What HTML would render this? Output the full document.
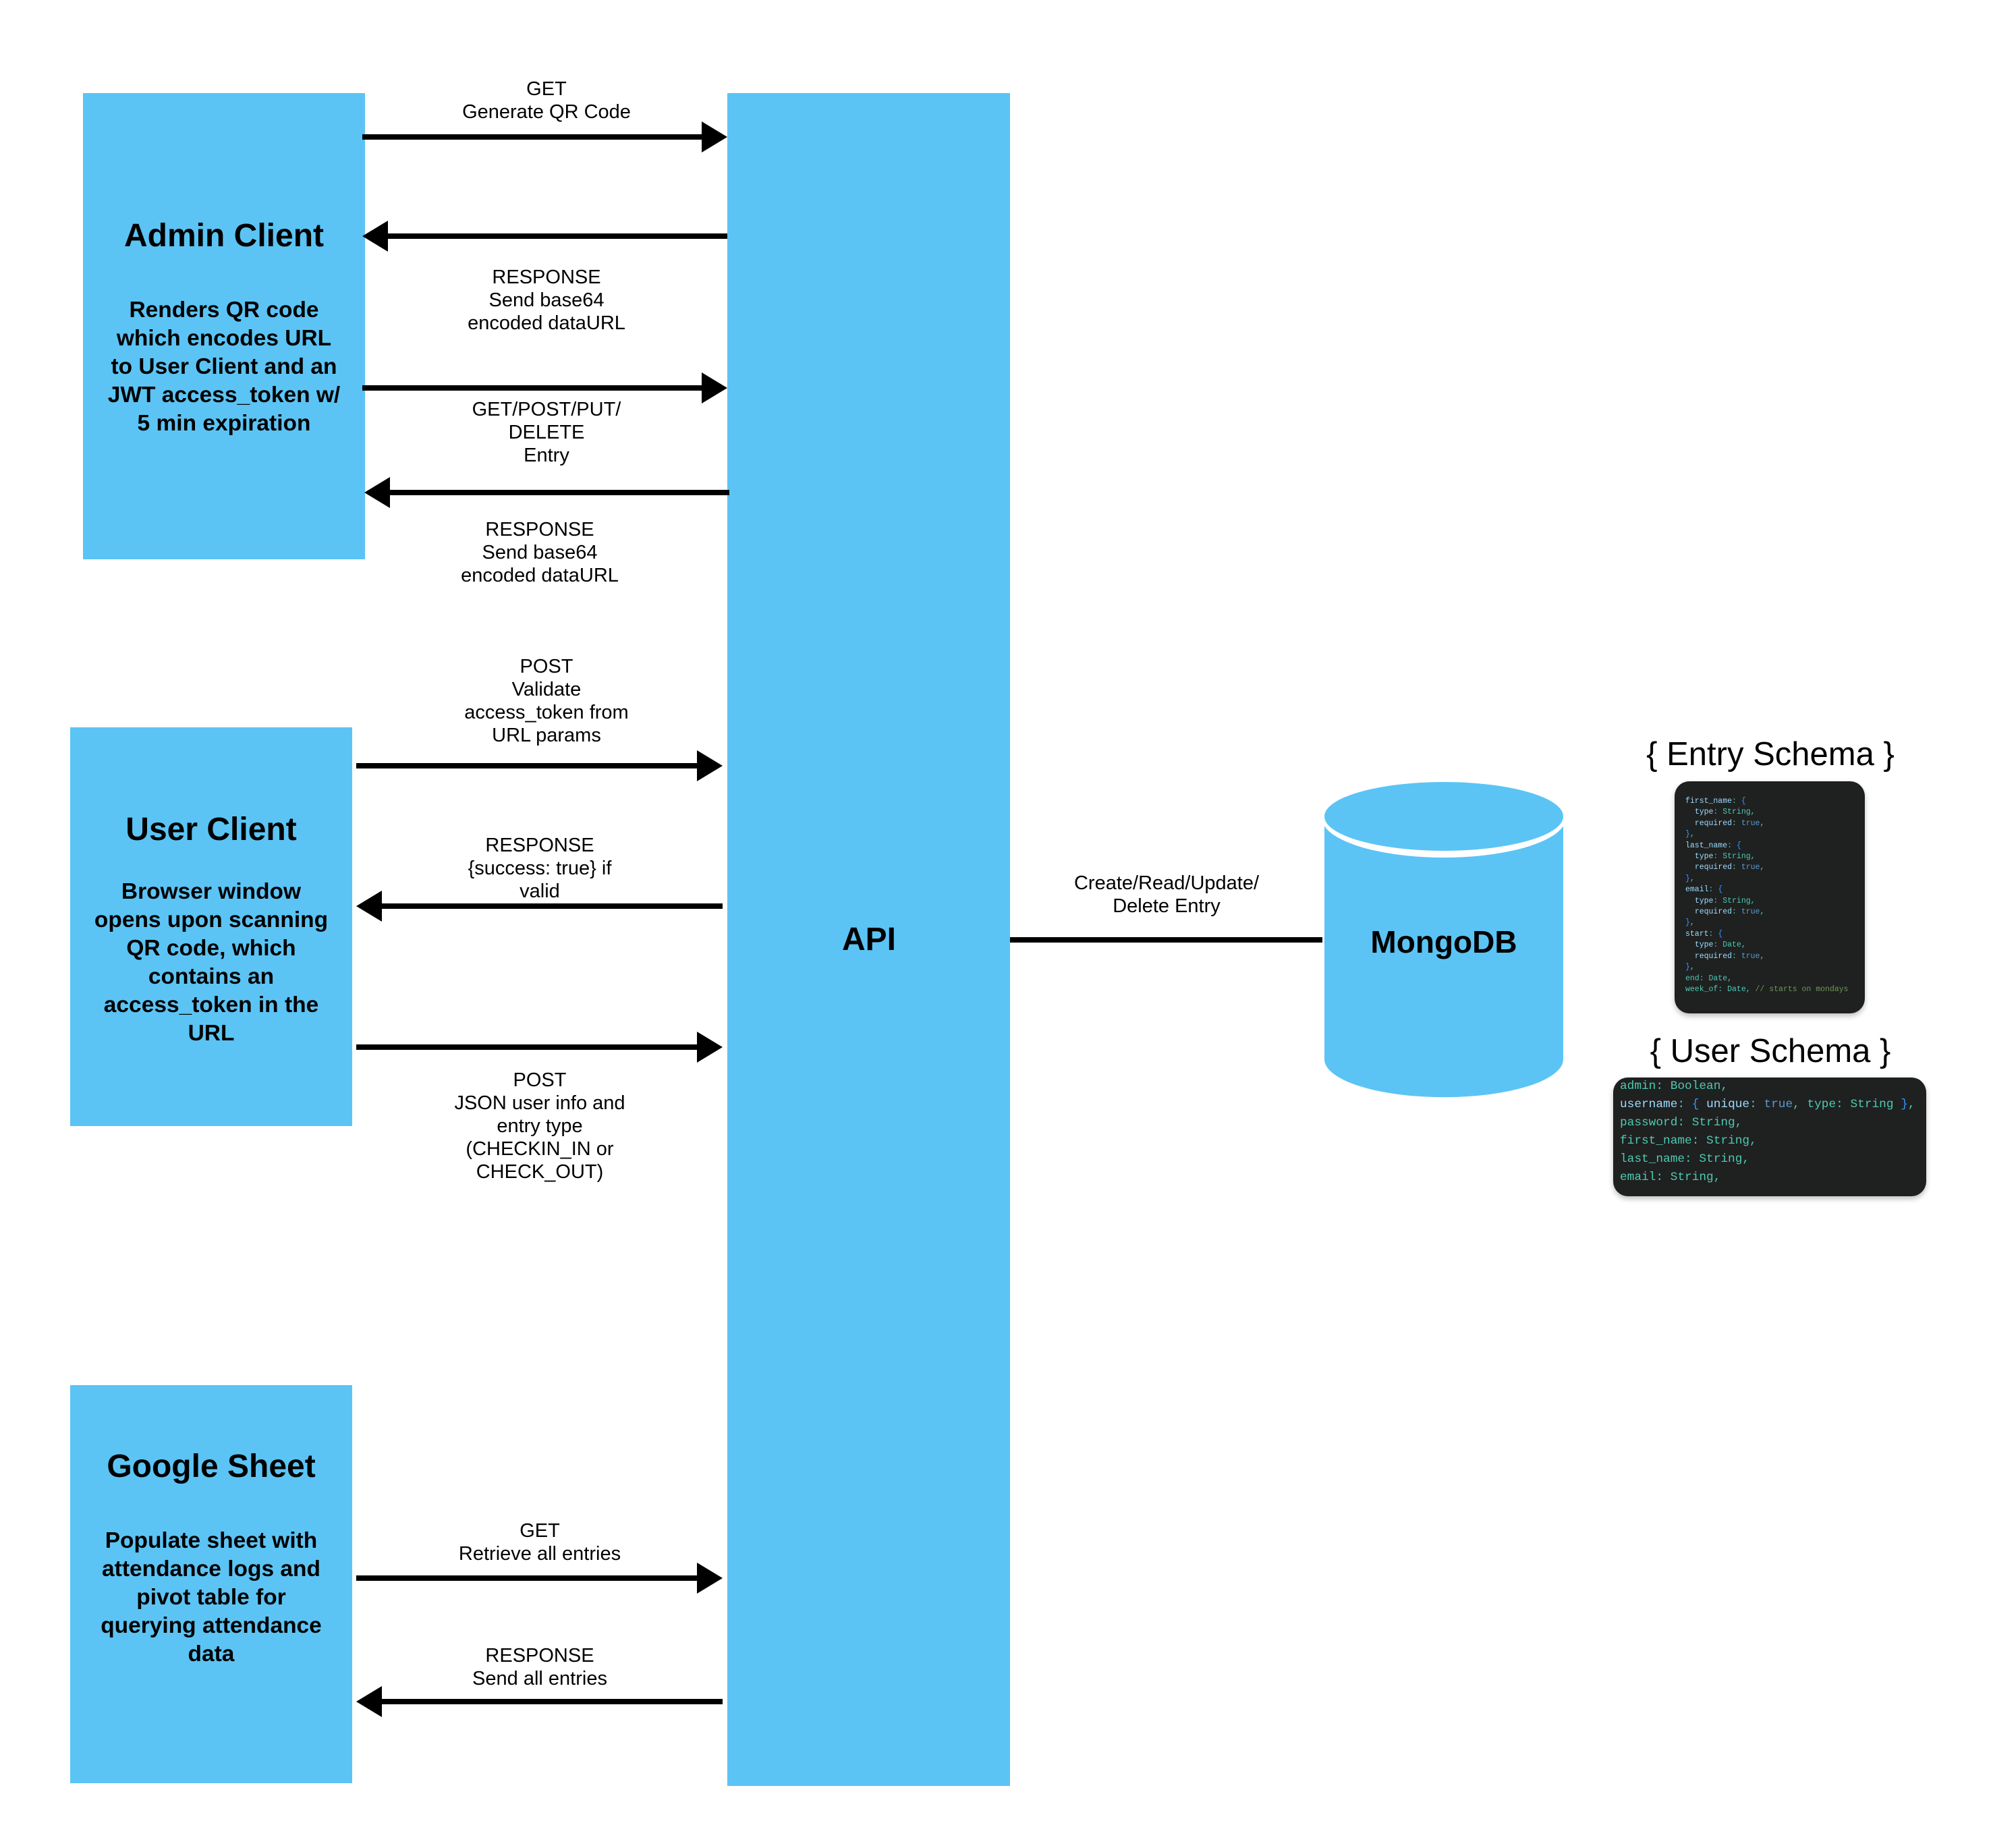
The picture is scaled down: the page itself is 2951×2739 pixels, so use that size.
<!DOCTYPE html>
<html><head><meta charset="utf-8"><style>
body{margin:0;width:2951px;height:2739px;background:#fff;position:relative;overflow:hidden;font-family:"Liberation Sans",sans-serif;}
.b{position:absolute;background:#5BC4F5;}
.t{position:absolute;text-align:center;color:#000;transform:translateX(-50%);white-space:nowrap;}
.lbl{font-size:29px;line-height:34px;}
.title{font-size:48px;font-weight:bold;line-height:56px;}
.body{font-size:33.5px;font-weight:bold;line-height:42px;}
.code{position:absolute;background:#1f2020;border-radius:22px;font-family:"Liberation Mono",monospace;color:#4ec9b0;white-space:pre;box-shadow:0 4px 8px rgba(0,0,0,.25);overflow:hidden;}
.k{color:#9cdcfe}.p{color:#3794ff}.v{color:#569cd6}.c{color:#6a9955}
</style></head><body>
<div class="b" style="left:123px;top:138px;width:418px;height:691px"></div>
<div class="b" style="left:1078px;top:138px;width:419px;height:2509px"></div>
<div class="b" style="left:104px;top:1078px;width:418px;height:591px"></div>
<div class="b" style="left:104px;top:2053px;width:418px;height:590px"></div>

<svg style="position:absolute;left:0;top:0" width="2951" height="2739">
<g fill="#000" stroke="#000" stroke-width="8">
<line x1="537" y1="203" x2="1045" y2="203"/><polygon stroke="none" points="1078,203 1040,180 1040,226"/>
<line x1="575" y1="350" x2="1078" y2="350"/><polygon stroke="none" points="537,350 575,327 575,373"/>
<line x1="537" y1="575" x2="1045" y2="575"/><polygon stroke="none" points="1078,575 1040,552 1040,598"/>
<line x1="578" y1="730" x2="1081" y2="730"/><polygon stroke="none" points="540,730 578,707 578,753"/>
<line x1="528" y1="1135" x2="1035" y2="1135"/><polygon stroke="none" points="1071,1135 1033,1112 1033,1158"/>
<line x1="566" y1="1343" x2="1071" y2="1343"/><polygon stroke="none" points="528,1343 566,1320 566,1366"/>
<line x1="528" y1="1552" x2="1035" y2="1552"/><polygon stroke="none" points="1071,1552 1033,1529 1033,1575"/>
<line x1="528" y1="2339" x2="1035" y2="2339"/><polygon stroke="none" points="1071,2339 1033,2316 1033,2362"/>
<line x1="566" y1="2522" x2="1071" y2="2522"/><polygon stroke="none" points="528,2522 566,2499 566,2545"/>
<line x1="1497" y1="1393" x2="1960" y2="1393"/>
</g>
<g fill="#5BC4F5">
<path d="M1963,1212 L1963,1570 A176,56 0 0 0 2317,1570 L2317,1212 Z"/>
<ellipse cx="2140" cy="1212" rx="181" ry="59" fill="#fff"/>
<ellipse cx="2140" cy="1210" rx="177" ry="51"/>
</g>
</svg>

<div class="t title" style="left:332px;top:322px">Admin Client</div>
<div class="t body" style="left:332px;top:439px">Renders QR code<br>which encodes URL<br>to User Client and an<br>JWT access_token w/<br>5 min expiration</div>
<div class="t title" style="left:313px;top:1202px">User Client</div>
<div class="t body" style="left:313px;top:1301px">Browser window<br>opens upon scanning<br>QR code, which<br>contains an<br>access_token in the<br>URL</div>
<div class="t title" style="left:313px;top:2146px">Google Sheet</div>
<div class="t body" style="left:313px;top:2263px">Populate sheet with<br>attendance logs and<br>pivot table for<br>querying attendance<br>data</div>
<div class="t title" style="left:1288px;top:1365px">API</div>
<div class="t title" style="left:2140px;top:1368px;font-size:46px">MongoDB</div>

<div class="t lbl" style="left:810px;top:115px">GET<br>Generate QR Code</div>
<div class="t lbl" style="left:810px;top:394px">RESPONSE<br>Send base64<br>encoded dataURL</div>
<div class="t lbl" style="left:810px;top:590px">GET/POST/PUT/<br>DELETE<br>Entry</div>
<div class="t lbl" style="left:800px;top:768px">RESPONSE<br>Send base64<br>encoded dataURL</div>
<div class="t lbl" style="left:810px;top:971px">POST<br>Validate<br>access_token from<br>URL params</div>
<div class="t lbl" style="left:800px;top:1236px">RESPONSE<br>{success: true} if<br>valid</div>
<div class="t lbl" style="left:800px;top:1584px">POST<br>JSON user info and<br>entry type<br>(CHECKIN_IN or<br>CHECK_OUT)</div>
<div class="t lbl" style="left:800px;top:2252px">GET<br>Retrieve all entries</div>
<div class="t lbl" style="left:800px;top:2437px">RESPONSE<br>Send all entries</div>
<div class="t lbl" style="left:1729px;top:1292px">Create/Read/Update/<br>Delete Entry</div>

<div class="t" style="left:2624px;top:1090px;font-size:49px;line-height:56px">{ Entry Schema }</div>
<div class="code" style="left:2482px;top:1158px;width:282px;height:344px;font-size:11.5px;line-height:16.4px;padding:22px 0 0 16px;box-sizing:border-box"><span class="k">first_name</span>: <span class="p">{</span>
  <span class="k">type</span>: String,
  <span class="k">required</span>: <span class="v">true</span>,
<span class="p">}</span>,
<span class="k">last_name</span>: <span class="p">{</span>
  <span class="k">type</span>: String,
  <span class="k">required</span>: <span class="v">true</span>,
<span class="p">}</span>,
<span class="k">email</span>: <span class="p">{</span>
  <span class="k">type</span>: String,
  <span class="k">required</span>: <span class="v">true</span>,
<span class="p">}</span>,
<span class="k">start</span>: <span class="p">{</span>
  <span class="k">type</span>: Date,
  <span class="k">required</span>: <span class="v">true</span>,
<span class="p">}</span>,
end: Date,
week_of: Date, <span class="c">// starts on mondays</span></div>
<div class="t" style="left:2624px;top:1530px;font-size:49px;line-height:56px">{ User Schema }</div>
<div class="code" style="left:2391px;top:1597px;width:464px;height:176px;font-size:17.8px;line-height:27px;padding:0 0 0 10px;box-sizing:border-box">admin: Boolean,
<span class="k">username</span>: <span class="p">{</span> <span class="k">unique</span>: <span class="v">true</span>, type: String <span class="p">}</span>,
password: String,
first_name: String,
last_name: String,
email: String,</div>
</body></html>
